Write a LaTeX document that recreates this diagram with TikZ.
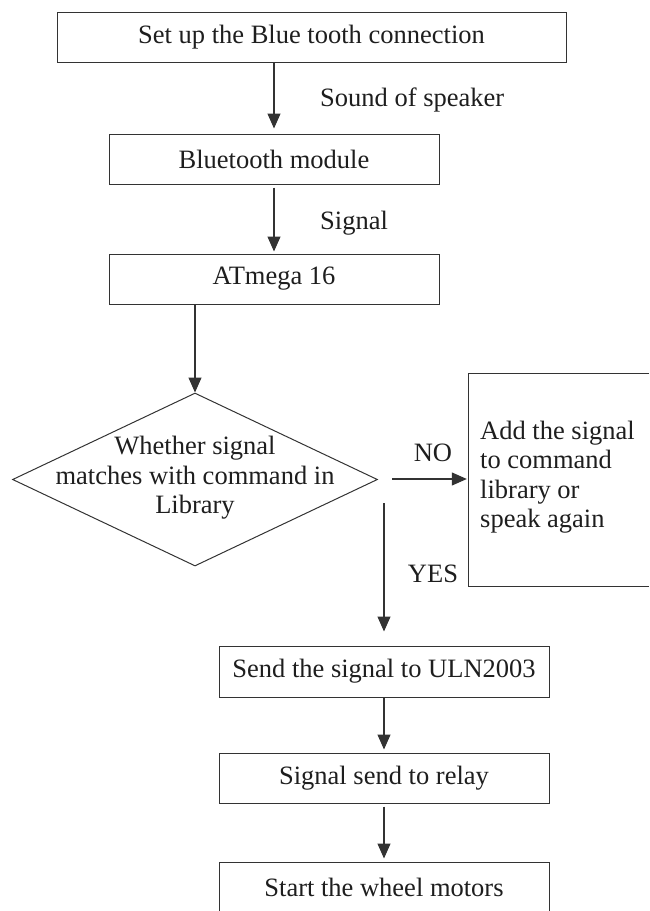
\documentclass[tikz,border=0pt]{standalone}
\usepackage{fontspec}
\setmainfont{Liberation Serif}
\usetikzlibrary{shapes.geometric,arrows.meta}
\definecolor{linec}{HTML}{333333}
\definecolor{txt}{HTML}{1E1E1E}
\newcommand{\myfs}{\fontsize{26.5}{29.5}\selectfont}
\begin{document}
\begin{tikzpicture}[x=1pt,y=-1pt,
  box/.style={draw=linec, line width=1pt, minimum height=50pt, inner sep=0pt, text=txt, font=\myfs},
  lbl/.style={text=txt, font=\myfs, inner sep=0pt},
  arr/.style={draw=linec, line width=1.2pt, -{Triangle[length=15pt,width=13pt]}},
  frame/.style={draw=linec, line width=1pt}
]
\useasboundingbox (0,0) rectangle (649,911);
% boxes
\node[box, minimum width=509pt] (top) at (311.5,37) {Set up the Blue tooth connection};
\node[box, minimum width=330pt] (bt) at (274,159) {Bluetooth module};
\node[box, minimum width=330pt] (atm) at (274,279) {ATmega 16};
\node[diamond, frame, minimum width=365pt, minimum height=173pt, inner sep=0pt, aspect=2.11] (dec) at (195,479.5) {};
\node[lbl, align=center] (dect) at (195,478) {Whether signal\\matches with command in\\Library};
\node[minimum width=180pt, minimum height=212pt, inner sep=0pt] (add) at (559,480) {};
\draw[frame] (add.north east) -- (add.north west) -- (add.south west) -- (add.south east);
\node[lbl, align=left, anchor=west] (addt) at (480,477) {Add the signal\\to command\\library or\\speak again};
\node[box, minimum width=330pt, minimum height=51pt] (send) at (384,671.5) {Send the signal to ULN2003};
\node[box, minimum width=330pt] (relay) at (384,778) {Signal send to relay};
\node[box, minimum width=330pt] (start) at (384,887) {Start the wheel motors};
% labels
\node[lbl, anchor=west] (l1) at (320,100) {Sound of speaker};
\node[lbl, anchor=west] (l2) at (320,223) {Signal};
\node[lbl] (lno) at (433,453) {NO};
\node[lbl] (lyes) at (433,574) {YES};
% connectors
\draw[arr, shorten >=5pt] (bt.north |- top.south) -- (bt.north);
\draw[arr, shorten <=3pt, shorten >=2pt] (bt.south) -- (atm.north);
\draw[arr] (dec.north |- atm.south) -- (dec.north);
\coordinate (nos) at (392,479);
\draw[arr, shorten >=2pt] (nos) -- (add.west |- nos);
\coordinate (yess) at (384,503);
\draw[arr, shorten >=14pt] (yess) -- (send.north);
\draw[arr, shorten >=3pt] (send.south) -- (relay.north);
\draw[arr, shorten <=3pt, shorten >=3pt] (relay.south) -- (start.north);
\end{tikzpicture}
\end{document}
